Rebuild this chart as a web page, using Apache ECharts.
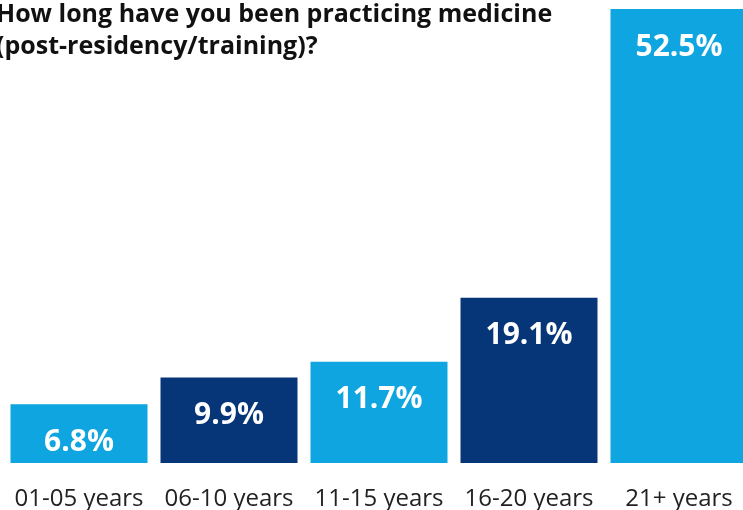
<!DOCTYPE html>
<html>
<head>
<meta charset="utf-8">
<script src="https://cdn.jsdelivr.net/npm/echarts@6/dist/echarts.min.js"></script>
<style>
  html, body { margin: 0; padding: 0; background: #fff; }
  #chart { width: 743px; height: 510px; }
</style>
</head>
<body>
<div id="chart"></div>
<script>
const categories = ['01-05 years', '06-10 years', '11-15 years', '16-20 years', '21+ years']
const shares = [6.8, 9.9, 11.7, 19.1, 52.5]
const barColors = ['#0ea5e0', '#073678', '#0ea5e0', '#073678', '#0ea5e0']

const myChart = echarts.init(document.getElementById('chart'))
const option = {
  animation: false,
  title: {
    text: 'How long have you been practicing medicine\n(post-residency/training)?',
    left: -4,
    top: -1,
    padding: 0,
    textStyle: {
      fontFamily: 'Open Sans',
      fontWeight: 'bold',
      fontSize: 25,
      lineHeight: 32,
      color: '#111'
    }
  },
  grid: {
    left: 4,
    width: 750,
    top: 9,
    bottom: 47,
    outerBoundsMode: 'none'
  },
  xAxis: {
    type: 'category',
    data: categories,
    axisLine: { show: false },
    axisTick: { show: false },
    axisLabel: {
      margin: 24,
      interval: 0,
      fontFamily: 'Open Sans',
      fontSize: 24,
      color: '#222'
    }
  },
  yAxis: {
    type: 'value',
    min: 0,
    max: 52.5,
    show: false
  },
  series: [
    {
      type: 'bar',
      barWidth: 137,
      data: shares.map((v, i) => ({ value: v, itemStyle: { color: barColors[i] } })),
      label: {
        show: true,
        position: 'insideTop',
        distance: 23,
        formatter: '{c}%',
        fontFamily: 'Open Sans',
        fontWeight: 'bold',
        fontSize: 30,
        color: '#fff'
      }
    }
  ]
}
myChart.setOption(option)
</script>
</body>
</html>
